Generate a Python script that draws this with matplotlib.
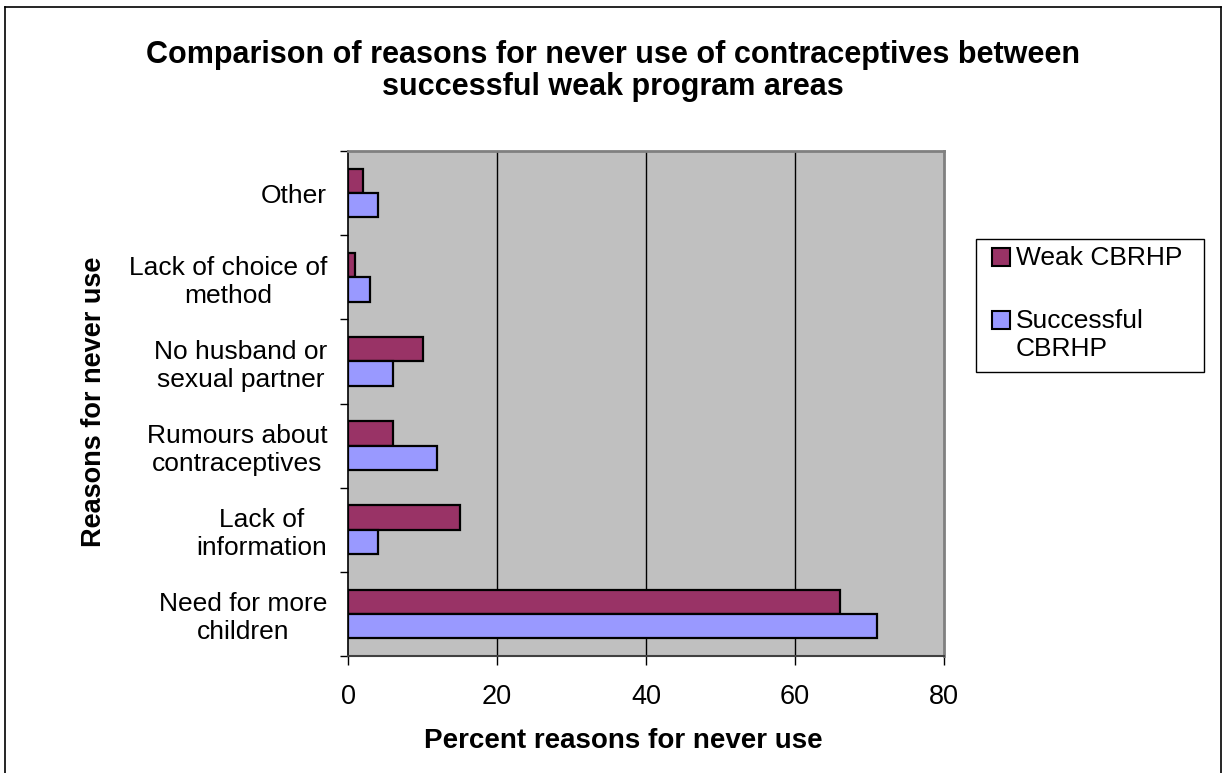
import matplotlib
matplotlib.use("Agg")
import matplotlib.pyplot as plt
from matplotlib.patches import Rectangle
import numpy as np

# 데이터 (아래에서 위 순서)
categories = ["Need for more\nchildren", "Lack of\ninformation", "Rumours about\ncontraceptives",
              "No husband or\nsexual partner", "Lack of choice of\nmethod", "Other"]
weak = [66, 15, 6, 10, 1, 2]
successful = [71, 4, 12, 6, 3, 4]
series_names = ["Weak CBRHP", "Successful\nCBRHP"]
x_ticks = [0, 20, 40, 60, 80]

WEAK_COLOR = "#993366"
SUCC_COLOR = "#9999FF"
W, H = 1225, 773

plt.rcParams["font.family"] = ["Liberation Sans", "DejaVu Sans"]

fig = plt.figure(figsize=(W / 100, H / 100), dpi=100)
ax = fig.add_axes([348 / W, 1 - 656 / H, (944 - 348) / W, (656 - 151) / H])

y = np.arange(len(categories))
bh = 0.29
ax.barh(y + bh / 2, weak, height=bh, color=WEAK_COLOR, edgecolor="black", linewidth=1.6, zorder=3)
ax.barh(y - bh / 2, successful, height=bh, color=SUCC_COLOR, edgecolor="black", linewidth=1.6, zorder=3)

ax.set_xlim(0, 80)
ax.set_ylim(-0.5, len(categories) - 0.5)
ax.set_facecolor("#C0C0C0")

# 격자선 (검은색)
for v in x_ticks[1:-1]:
    ax.axvline(v, color="black", linewidth=1.0, zorder=1)

# 축 테두리
for side in ["top", "right"]:
    ax.spines[side].set_color("#808080")
    ax.spines[side].set_linewidth(2.0)
ax.spines["left"].set_color("black")
ax.spines["left"].set_linewidth(1.2)
ax.spines["bottom"].set_color("#404040")
ax.spines["bottom"].set_linewidth(1.5)

ax.set_xticks(x_ticks)
ax.set_xticklabels([str(t) for t in x_ticks], fontsize=19.5)
ax.tick_params(axis="x", direction="out", length=6.5, width=1.0, pad=14)

ax.set_yticks(y)
ax.set_yticklabels(categories, fontsize=19, multialignment="center")
ax.tick_params(axis="y", which="major", length=0, pad=15)
ax.set_yticks(np.arange(len(categories) + 1) - 0.5, minor=True)
ax.tick_params(axis="y", which="minor", direction="out", length=6, width=1.0)

# 제목 및 축 제목
fig.text(0.5, 1 - 63 / H, "Comparison of reasons for never use of contraceptives between",
         ha="center", va="baseline", fontsize=22, fontweight="bold")
fig.text(0.5, 1 - 95 / H, "successful weak program areas",
         ha="center", va="baseline", fontsize=22, fontweight="bold")
fig.text(623 / W, 1 - 741 / H, "Percent reasons for never use",
         ha="center", va="center", fontsize=20, fontweight="bold")
fig.text(94 / W, 1 - 402 / H, "Reasons for never use", rotation=90,
         ha="center", va="center", fontsize=19.5, fontweight="bold")

# 범례 (수동)
fig.add_artist(Rectangle((976 / W, 1 - 372 / H), (1204 - 976) / W, (372 - 239) / H,
                         transform=fig.transFigure, facecolor="white", edgecolor="black", linewidth=1.0))
for i, (name, col) in enumerate(zip(series_names, [WEAK_COLOR, SUCC_COLOR])):
    cy = 257 + i * 63
    fig.add_artist(Rectangle((992 / W, 1 - (cy + 9) / H), 18 / W, 18 / H, transform=fig.transFigure,
                             facecolor=col, edgecolor="black", linewidth=1.5))
    fig.text(1016 / W, 1 - (cy - 11) / H, name, ha="left", va="top",
             fontsize=19, linespacing=1.2)

# 바깥 테두리
fig.add_artist(plt.Line2D([5 / W, 5 / W], [0, 1 - 7 / H], transform=fig.transFigure, color="black", linewidth=1.2))
fig.add_artist(plt.Line2D([5 / W, 1221 / W], [1 - 7 / H, 1 - 7 / H], transform=fig.transFigure, color="black", linewidth=1.2))
fig.add_artist(plt.Line2D([1221 / W, 1221 / W], [0, 1 - 7 / H], transform=fig.transFigure, color="black", linewidth=1.2))

fig.savefig("out.png", dpi=100)
